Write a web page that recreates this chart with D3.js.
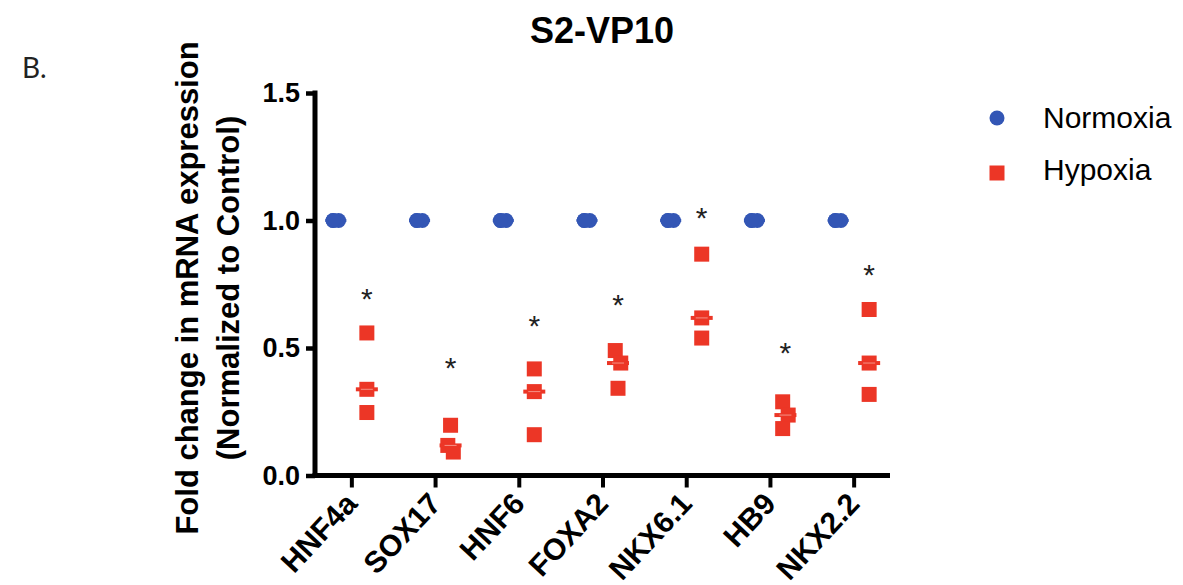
<!DOCTYPE html>
<html>
<head>
<meta charset="utf-8">
<script src="https://cdn.jsdelivr.net/npm/d3@7"></script>
<style>
  body { margin: 0; background: #fff; }
  svg { display: block; }
</style>
</head>
<body>
<script>
// data
var genes = ['HNF4a', 'SOX17', 'HNF6', 'FOXA2', 'NKX6.1', 'HB9', 'NKX2.2']
var seriesNames = ['Normoxia', 'Hypoxia']
var normoxia = [
  [1, 1, 1], [1, 1, 1], [1, 1, 1], [1, 1, 1], [1, 1, 1], [1, 1, 1], [1, 1, 1]
]
var hypoxia = [
  [0.559, 0.338, 0.247],
  [0.197, 0.118, 0.092],
  [0.418, 0.329, 0.160],
  [0.490, 0.441, 0.342],
  [0.868, 0.618, 0.539],
  [0.289, 0.237, 0.184],
  [0.651, 0.441, 0.318]
]
var starLevels = [0.714, 0.447, 0.611, 0.694, 1.032, 0.502, 0.809]
var yTicks = [0, 0.5, 1.0, 1.5]

var width = 1183
var height = 585
var colors = { Normoxia: '#3356b5', Hypoxia: '#ec3626' }
var markSize = 15

var svg = d3.select('body').append('svg')
  .attr('width', width)
  .attr('height', height)

var x = d3.scaleBand()
  .domain(genes)
  .range([310, 896])

var sub = d3.scalePoint()
  .domain(seriesNames)
  .range([-16, 15])

var y = d3.scaleLinear()
  .domain([0, 1.5])
  .range([475.5, 93])

var axisX0 = 315
var axisX1 = 890

// y axis
var yAxis = svg.append('g')
  .attr('transform', 'translate(' + axisX0 + ',0)')
  .call(d3.axisLeft(y)
    .tickValues(yTicks)
    .tickFormat(d3.format('.1f'))
    .tickSize(9)
    .tickSizeOuter(0)
    .tickPadding(6))
yAxis.select('.domain').remove()
yAxis.selectAll('.tick line').attr('stroke', '#000').attr('stroke-width', 4.5)
yAxis.selectAll('.tick text')
  .attr('fill', '#000')
  .style('font-family', 'Arial, "Liberation Sans", sans-serif')
  .style('font-weight', 'bold')
  .style('font-size', '27px')

// x axis
var xAxis = svg.append('g')
  .attr('transform', 'translate(0,' + y(0) + ')')
  .call(d3.axisBottom(x).tickSize(12).tickSizeOuter(0).tickFormat(''))
xAxis.select('.domain').remove()
xAxis.selectAll('.tick line').attr('stroke', '#000').attr('stroke-width', 4)

// axis lines
svg.append('line')
  .attr('x1', axisX0).attr('x2', axisX0)
  .attr('y1', y(1.5) - 2.5).attr('y2', y(0) + 2.5)
  .attr('stroke', '#000').attr('stroke-width', 5)
svg.append('line')
  .attr('x1', axisX0 - 2.5).attr('x2', axisX1)
  .attr('y1', y(0)).attr('y2', y(0))
  .attr('stroke', '#000').attr('stroke-width', 5)

// rotated gene labels
svg.append('g').selectAll('text')
  .data(genes)
  .enter()
  .append('text')
  .attr('transform', (d) => 'translate(' + (x(d) + x.bandwidth() / 2 + 7) + ',' + 505 + ') rotate(-47)')
  .attr('text-anchor', 'end')
  .style('font-family', 'Arial, "Liberation Sans", sans-serif')
  .style('font-weight', 'bold')
  .style('font-size', '30px')
  .text((d) => d)

// spread overlapping points sideways, alternating left/right
function spread(vals) {
  var sorted = vals.slice().sort((a, b) => b - a)
  var out = []
  var run = 0
  sorted.forEach(function(v, i) {
    var overlapPrev = i > 0 && Math.abs(y(v) - y(sorted[i - 1])) < markSize
    var overlapNext = i < sorted.length - 1 && Math.abs(y(v) - y(sorted[i + 1])) < markSize
    if (!overlapPrev) run = 0
    var off = 0
    if (overlapPrev || overlapNext) off = (run % 2 === 0 ? -2.75 : 2.75)
    run++
    out.push({ v: v, off: off })
  })
  return out
}

var plot = svg.append('g')

genes.forEach(function(g, i) {
  var cx = x(g) + x.bandwidth() / 2

  // normoxia circles
  var nx = cx + sub('Normoxia')
  plot.append('line')
    .attr('x1', nx - 10.5).attr('x2', nx + 10.5)
    .attr('y1', y(d3.median(normoxia[i]))).attr('y2', y(d3.median(normoxia[i])))
    .attr('stroke', colors.Normoxia).attr('stroke-width', 3)
  plot.selectAll(null)
    .data(spread(normoxia[i]))
    .enter()
    .append('circle')
    .attr('cx', (d) => nx + d.off)
    .attr('cy', (d) => y(d.v))
    .attr('r', markSize / 2)
    .attr('fill', colors.Normoxia)

  // hypoxia squares
  var hx = cx + sub('Hypoxia')
  plot.selectAll(null)
    .data(spread(hypoxia[i]))
    .enter()
    .append('rect')
    .attr('x', (d) => hx + d.off - markSize / 2)
    .attr('y', (d) => y(d.v) - markSize / 2)
    .attr('width', markSize)
    .attr('height', markSize)
    .attr('fill', colors.Hypoxia)
  var med = d3.median(hypoxia[i])
  plot.append('line')
    .attr('x1', hx - 11).attr('x2', hx + 11)
    .attr('y1', y(med)).attr('y2', y(med))
    .attr('stroke', colors.Hypoxia).attr('stroke-width', 4)
  plot.append('line')
    .attr('x1', hx - 6).attr('x2', hx + 6)
    .attr('y1', y(med)).attr('y2', y(med))
    .attr('stroke', '#f7a79d').attr('stroke-width', 0.8)

  // significance star
  plot.append('text')
    .attr('x', hx)
    .attr('y', y(starLevels[i]) + 16)
    .attr('text-anchor', 'middle')
    .style('font-family', 'Arial, "Liberation Sans", sans-serif')
    .style('font-size', '30px')
    .attr('fill', '#222')
    .text('*')
})

// y axis title
var yTitle = svg.append('text')
  .attr('transform', 'translate(198,288) rotate(-90)')
  .attr('text-anchor', 'middle')
  .style('font-family', 'Arial, "Liberation Sans", sans-serif')
  .style('font-weight', 'bold')
  .style('font-size', '31px')
yTitle.append('tspan').attr('x', 0).attr('y', 0).text('Fold change in mRNA expression')
yTitle.append('tspan').attr('x', 0).attr('y', 41).text('(Normalized to Control)')

// title
svg.append('text')
  .attr('x', 602)
  .attr('y', 43)
  .attr('text-anchor', 'middle')
  .style('font-family', 'Arial, "Liberation Sans", sans-serif')
  .style('font-weight', 'bold')
  .style('font-size', '36px')
  .text('S2-VP10')

// panel letter
svg.append('text')
  .attr('x', 22)
  .attr('y', 78)
  .style('font-family', 'Lato, "Open Sans", sans-serif')
  .style('font-size', '28px')
  .attr('fill', '#222')
  .text('B.')

// legend
var legend = svg.append('g')
  .attr('transform', 'translate(997,0)')
legend.append('circle')
  .attr('cx', 0).attr('cy', 118)
  .attr('r', markSize / 2)
  .attr('fill', colors.Normoxia)
legend.append('rect')
  .attr('x', -markSize / 2).attr('y', 173 - markSize / 2)
  .attr('width', markSize).attr('height', markSize)
  .attr('fill', colors.Hypoxia)
legend.selectAll('text')
  .data(seriesNames)
  .enter()
  .append('text')
  .attr('x', 46)
  .attr('y', (d, i) => 128 + i * 52)
  .style('font-family', 'Arial, "Liberation Sans", sans-serif')
  .style('font-size', '30px')
  .text((d) => d)
</script>
</body>
</html>
